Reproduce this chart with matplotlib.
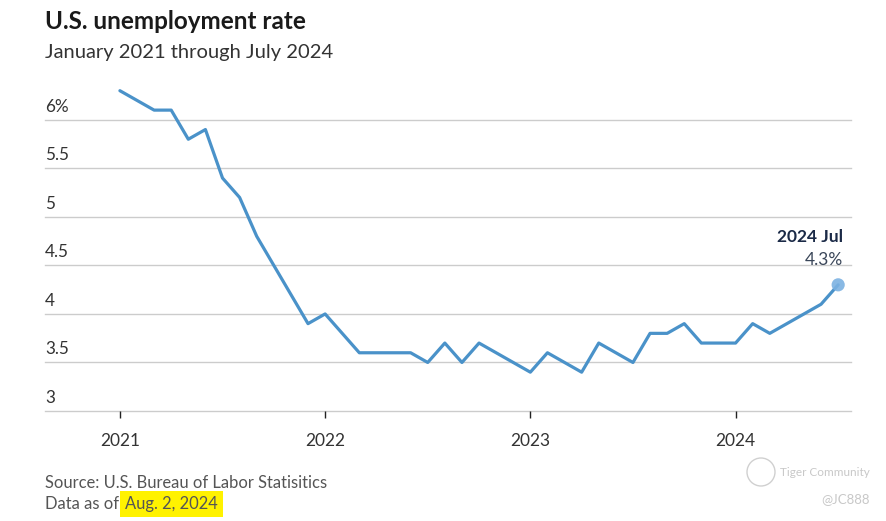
import matplotlib.pyplot as plt
import matplotlib.transforms as mtransforms
from matplotlib.patches import Ellipse
import numpy as np

# Monthly U.S. unemployment rate, Jan 2021 - Jul 2024 (%)
rate_2021 = [6.3, 6.2, 6.1, 6.1, 5.8, 5.9, 5.4, 5.2, 4.8, 4.5, 4.2, 3.9]
rate_2022 = [4.0, 3.8, 3.6, 3.6, 3.6, 3.6, 3.5, 3.7, 3.5, 3.7, 3.6, 3.5]
rate_2023 = [3.4, 3.6, 3.5, 3.4, 3.7, 3.6, 3.5, 3.8, 3.8, 3.9, 3.7, 3.7]
rate_2024 = [3.7, 3.9, 3.8, 3.9, 4.0, 4.1, 4.3]
rate = rate_2021 + rate_2022 + rate_2023 + rate_2024
months = np.arange(len(rate))  # 0 = Jan 2021

year_ticks = [0, 12, 24, 36]
year_labels = ["2021", "2022", "2023", "2024"]
y_ticks = [3, 3.5, 4, 4.5, 5, 5.5, 6]
y_labels = ["3", "3.5", "4", "4.5", "5", "5.5", "6%"]

plt.rcParams["font.family"] = ["Lato", "DejaVu Sans"]

W, H = 887, 521
fig = plt.figure(figsize=(W / 100, H / 100), dpi=100)
ax = fig.add_axes([45 / W, 1 - 411 / H, (851 - 45) / W, (411 - 81) / H])

line_color = "#4a92c9"
ax.plot(months, rate, color=line_color, lw=2.3, solid_joinstyle="round",
        solid_capstyle="round", zorder=3)
ax.scatter([months[-1]], [rate[-1]], s=90, color="#7cb2e2", zorder=4,
           edgecolors="none", alpha=0.9)

ax.set_xlim(-4.38, 42.75)
ax.set_ylim(3, 6.4)

# gridlines
for v in y_ticks:
    ax.axhline(v, color="#cccccc", lw=1, zorder=1, clip_on=False)

for s in ax.spines.values():
    s.set_visible(False)
ax.set_yticks([])
ax.set_xticks(year_ticks)
ax.set_xticklabels(year_labels, fontsize=12.5, color="#333333")
ax.tick_params(axis="x", length=5, width=1, color="#222222", pad=11)

# y labels sit above the gridlines, left aligned
offset = mtransforms.ScaledTranslation(0, 5 / 100, fig.dpi_scale_trans)
trans = mtransforms.blended_transform_factory(ax.transAxes, ax.transData) + offset
for v, lab in zip(y_ticks, y_labels):
    ax.text(0, v, lab, transform=trans, ha="left", va="bottom",
            fontsize=12.3, color="#333333")

# end annotation
ax.annotate("2024 Jul", (months[-1], rate[-1]), xytext=(5, 40),
            textcoords="offset pixels", ha="right", va="bottom",
            fontsize=12.5, fontweight="bold", color="#1b2a47")
ax.annotate("4.3%", (months[-1], rate[-1]), xytext=(5, 17),
            textcoords="offset pixels", ha="right", va="bottom",
            fontsize=12.5, color="#3a4659")

# titles
fig.text(45 / W, 1 - 29 / H, "U.S. unemployment rate", fontsize=17.5,
         fontweight="bold", color="#1a1a1a", ha="left", va="baseline")
fig.text(45 / W, 1 - 58 / H, "January 2021 through July 2024", fontsize=14.5,
         color="#333333", ha="left", va="baseline")

# footer
fig.text(45 / W, 1 - 488 / H, "Source: U.S. Bureau of Labor Statisitics",
         fontsize=11.9, color="#555555", ha="left", va="baseline")
fig.text(45 / W, 1 - 509 / H, "Data as of", fontsize=11.9,
         color="#555555", ha="left", va="baseline")
fig.text(125 / W, 1 - 509 / H, "Aug. 2, 2024", fontsize=11.9, color="#555555",
         ha="left", va="baseline",
         bbox=dict(boxstyle="square,pad=0.3", fc="#fff200", ec="none"))

# watermark
fig.text(780 / W, 1 - 473 / H, "Tiger Community", fontsize=8.5,
         color="#c8c8c8", ha="left", va="center")
fig.text(870 / W, 1 - 499 / H, "@JC888", fontsize=9.5, color="#c8c8c8",
         ha="right", va="center")
fig.patches.append(Ellipse((761 / W, 1 - 472 / H), 28 / W, 28 / H,
                           transform=fig.transFigure, fill=False,
                           ec="#d0d0d0", lw=1))

fig.savefig("out.png", dpi=100)
